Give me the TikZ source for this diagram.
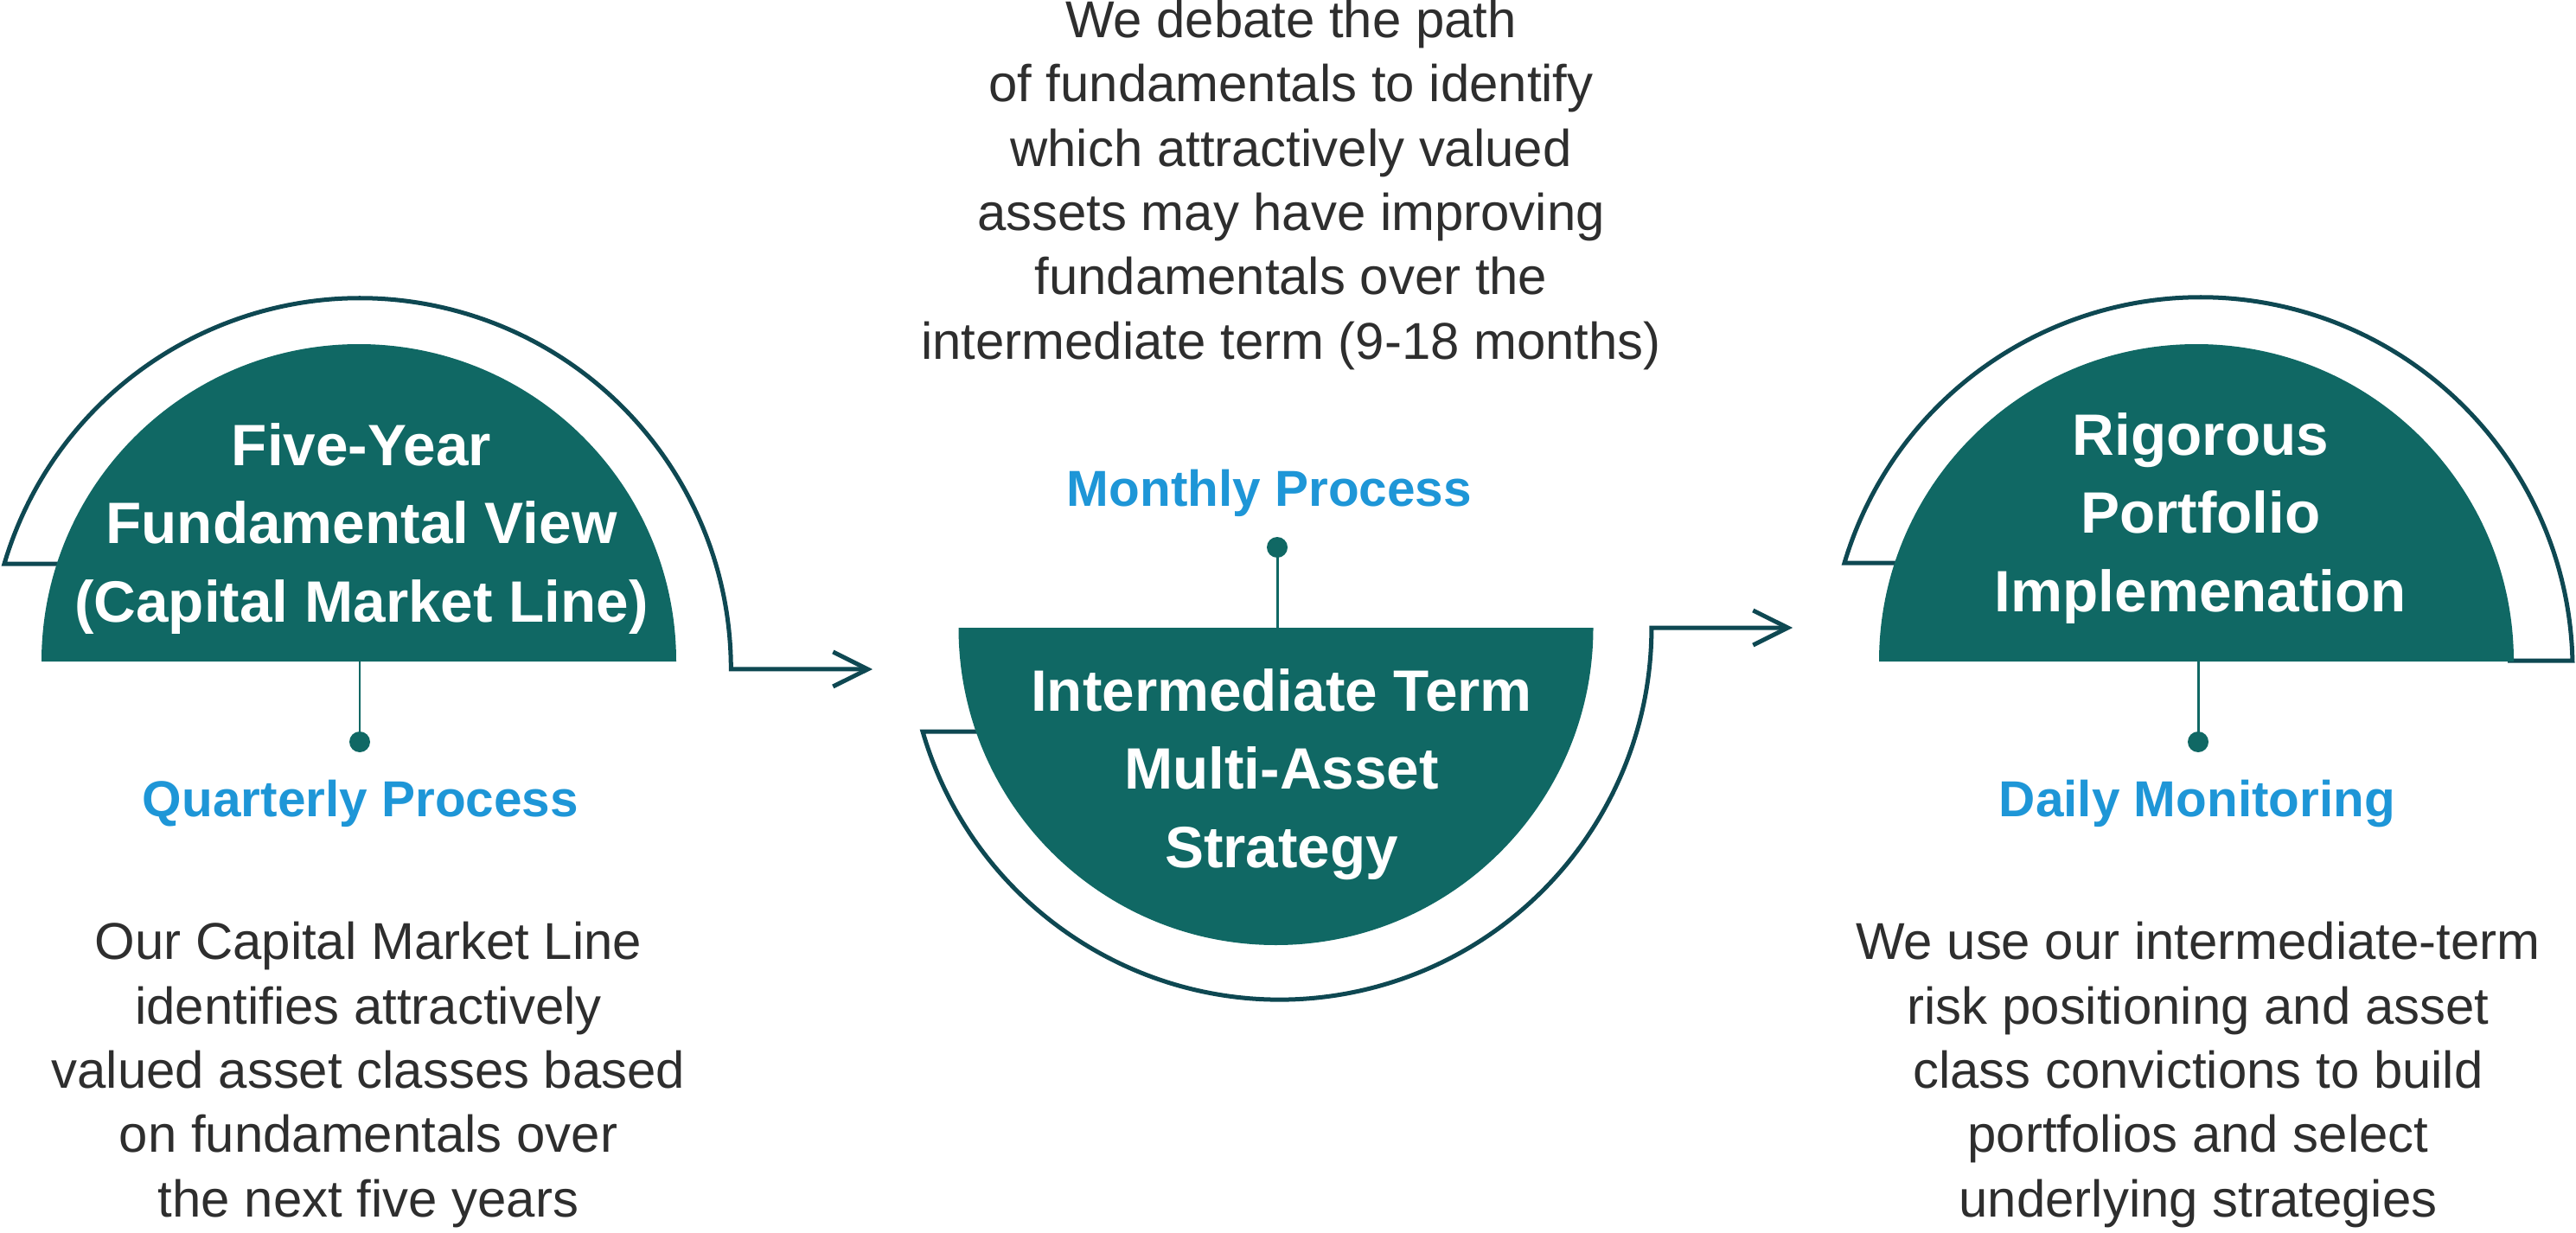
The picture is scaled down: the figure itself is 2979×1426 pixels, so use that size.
\documentclass[tikz,border=0pt]{standalone}
\usepackage{fontspec}
\setmainfont{Liberation Sans}
\usetikzlibrary{arrows.meta}
\definecolor{tealfill}{HTML}{106864}
\definecolor{darkline}{HTML}{0E4852}
\definecolor{bluelbl}{HTML}{1E96D7}
\definecolor{bodytxt}{HTML}{2E2E2E}
\begin{document}
\begin{tikzpicture}[x=0.02cm,y=-0.02cm,
  outline/.style={draw=darkline,line width=2.85pt,line join=miter},
  arrowtip/.style={-{Straight Barb[length=22.8pt,width=22.8pt]}},
  halfdisc/.style={fill=tealfill},
  stem/.style={draw=tealfill,line width=1.7pt},
  dotnode/.style={circle,fill=tealfill,inner sep=0pt,minimum size=0.48cm},
  title/.style={font=\bfseries\fontsize{38.4}{51.5}\selectfont,text=white,align=center,anchor=base,inner sep=0pt},
  proc/.style={font=\bfseries\fontsize{33.3}{40}\selectfont,text=bluelbl,anchor=base,inner sep=0pt},
  body/.style={font=\fontsize{34.1}{42.3}\selectfont,text=bodytxt,align=center,anchor=base,inner sep=0pt}]
\useasboundingbox (0,0) rectangle (2979,1426);

% ---------- outlines and arrows ----------
\coordinate (Ltip) at (1009,774);
\coordinate (Mtip) at (2073,726);
\draw[outline,arrowtip] (80,652) -- (5,652) arc[start angle=196.5,end angle=360,radius=429] -- (Ltip);
\draw[outline,arrowtip] (1140,846) -- (1067,846) arc[start angle=163.8,end angle=0,radius=430] -- (Mtip);
\draw[outline] (2200,651) -- (2133,651) arc[start angle=196.6,end angle=358.7,radius=430] -- (2900,764);

% ---------- filled half discs ----------
\fill[halfdisc] (48,765) arc[start angle=180,end angle=360,radius=367] -- cycle;
\fill[halfdisc] (1108.5,726) arc[start angle=180,end angle=0,radius=367] -- cycle;
\fill[halfdisc] (2173,765) arc[start angle=180,end angle=360,radius=367] -- cycle;

% ---------- stems and dots ----------
\coordinate (Lbase) at (416,765);
\coordinate (Mbase) at (1477,726);
\coordinate (Rbase) at (2542,765);
\node[dotnode] (Ldot) at (416,858) {};
\node[dotnode] (Mdot) at (1477,633) {};
\node[dotnode] (Rdot) at (2542,858) {};
\draw[stem] (Lbase) -- (Ldot.center);
\draw[stem] (Mbase) -- (Mdot.center);
\draw[stem] (Rbase) -- (Rdot.center);

% ---------- titles (anchor = baseline of last line) ----------
\node[title] (Ltitle) at (418,719) {Five-Year\\Fundamental View\\(Capital Market Line)};
\node[title] (Mtitle) at (1482,1003) {Intermediate Term\\Multi-Asset\\Strategy};
\node[title] (Rtitle) at (2545,707) {Rigorous\\Portfolio\\Implemenation};

% ---------- process labels ----------
\node[proc] (Lproc) at (417,944) {Quarterly Process};
\node[proc] (Mproc) at (1468,585) {Monthly Process};
\node[proc] (Rproc) at (2541,944) {Daily Monitoring};

% ---------- body texts ----------
\node[body] (Mtext) at (1493,415) {We debate the path\\of fundamentals to identify\\which attractively valued\\assets may have improving\\fundamentals over the\\intermediate term (9-18 months)};
\node[body] (Ltext) at (426,1407) {Our Capital Market Line\\identifies attractively\\valued asset classes based\\on fundamentals over\\the next five years};
\node[body] (Rtext) at (2542,1407) {We use our intermediate-term\\risk positioning and asset\\class convictions to build\\portfolios and select\\underlying strategies};
\end{tikzpicture}
\end{document}
